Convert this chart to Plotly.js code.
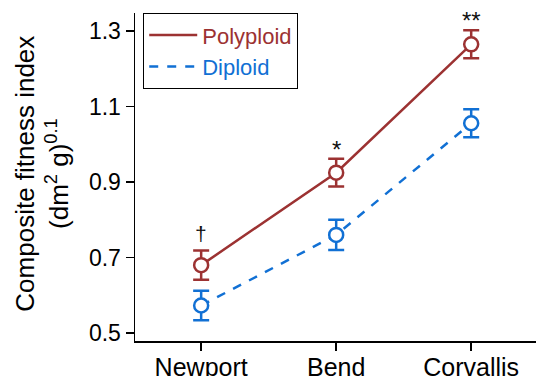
<!DOCTYPE html>
<html>
<head>
<meta charset="utf-8">
<script src="https://cdn.plot.ly/plotly-3.0.1.min.js"></script>
<style>html,body{margin:0;padding:0;background:#fff;}#chart{width:536px;height:376px;}</style>
</head>
<body>
<div id="chart"></div>
<script>
const sites = ["Newport", "Bend", "Corvallis"];
const polyploid = [0.68, 0.925, 1.265];
const polyploidErr = [0.039, 0.037, 0.037];
const diploid = [0.573, 0.76, 1.056];
const diploidErr = [0.039, 0.04, 0.037];
const sigLabels = ["†", "*", "**"];
const yTicks = [0.5, 0.7, 0.9, 1.1, 1.3];

const red = "#9c3232";
const blue = "#1170d4";
const FONT = "Liberation Sans, Arial, sans-serif";
const idx = sites.map((s, i) => i);

const traces = [
  {x: idx, y: polyploid, mode: "lines", line: {color: red, width: 2.5},
   name: '<span style="color:' + red + '">Polyploid</span>', hoverinfo: "skip"},
  {x: idx, y: diploid, mode: "lines", line: {color: blue, width: 2.5, dash: "dash"},
   name: '<span style="color:' + blue + '">Diploid</span>', hoverinfo: "skip"},
  {x: idx, y: polyploid, mode: "markers", showlegend: false,
   marker: {symbol: "circle", size: 14, color: "#fff", line: {color: red, width: 2.5}},
   error_y: {type: "data", array: polyploidErr, color: red, thickness: 2.5, width: 8}},
  {x: idx, y: diploid, mode: "markers", showlegend: false,
   marker: {symbol: "circle", size: 14, color: "#fff", line: {color: blue, width: 2.5}},
   error_y: {type: "data", array: diploidErr, color: blue, thickness: 2.5, width: 8}}
];

const sigShift = [3, -6, -6];
const annotations = sites.map((s, i) => ({
  x: i, y: polyploid[i] + polyploidErr[i], xref: "x", yref: "y",
  text: sigLabels[i], showarrow: false, yanchor: "bottom", yshift: sigShift[i],
  font: {family: FONT, size: i === 0 ? 21 : 24, color: "#111"}
}));
annotations.push({
  xref: "paper", yref: "paper", x: -0.232, y: 0.51, xanchor: "center", yanchor: "middle",
  textangle: -90, showarrow: false,
  text: "Composite fitness index<br>(dm<sup>2</sup> g)<sup>0.1</sup>",
  font: {family: FONT, size: 26, color: "#000"}
});

const layout = {
  width: 536, height: 376,
  margin: {l: 135, r: 0, t: 13, b: 35},
  paper_bgcolor: "#fff", plot_bgcolor: "#fff",
  font: {family: FONT, size: 22, color: "#000"},
  showlegend: true,
  legend: {x: 0.02, y: 1.0, xanchor: "left", yanchor: "top",
    bordercolor: "#000", borderwidth: 1.2, bgcolor: "#fff",
    itemwidth: 48,
    font: {family: FONT, size: 22}, tracegroupgap: 0},
  xaxis: {range: [-0.49, 2.48], tickvals: idx, ticktext: sites,
    tickfont: {family: FONT, size: 25}, ticklabelstandoff: -5,
    showgrid: false, zeroline: false, showline: true, linecolor: "#000", linewidth: 1.5,
    ticks: "outside", ticklen: 8, tickwidth: 1.5, tickcolor: "#000"},
  yaxis: {range: [0.479, 1.348], tickvals: yTicks, ticktext: yTicks.map(v => v.toFixed(1)),
    tickfont: {family: FONT, size: 23},
    showgrid: false, zeroline: false, showline: true, linecolor: "#000", linewidth: 1.5,
    ticks: "outside", ticklen: 8, tickwidth: 1.5, tickcolor: "#000"},
  annotations: annotations
};

Plotly.newPlot("chart", traces, layout, {displayModeBar: false, staticPlot: true});
</script>
</body>
</html>
